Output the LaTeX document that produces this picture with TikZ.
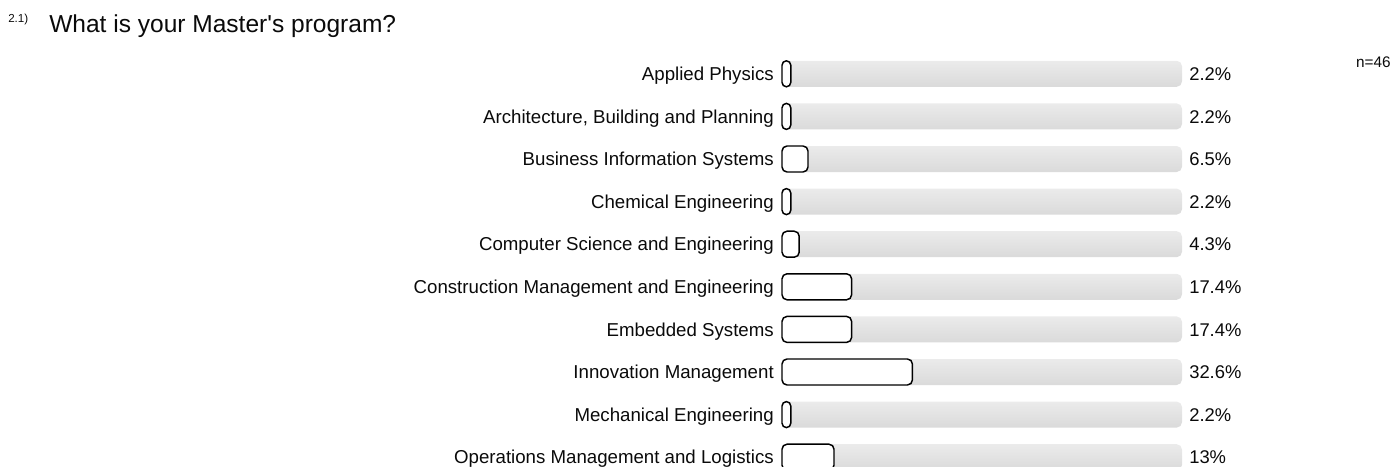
\documentclass[tikz,border=0pt]{standalone}
\usepackage{fontspec}
\setmainfont{Liberation Sans}
\newfontfamily\plainfont{Liberation Sans}
\definecolor{barTop}{RGB}{235,235,235}
\definecolor{barBot}{RGB}{218,218,218}
\definecolor{txt}{RGB}{10,10,10}
\begin{document}
\begin{tikzpicture}[x=0.75pt,y=-0.75pt,
  lbl/.style={inner sep=0pt,anchor=base east,text=txt,font=\fontsize{14}{16}\selectfont},
  pct/.style={inner sep=0pt,anchor=base west,text=txt,font=\fontsize{13.8}{16}\selectfont},
  bgbar/.style={top color=barTop,bottom color=barBot,rounded corners=4pt},
  valbox/.style={draw=black,fill=white,line width=1.1pt}]
\useasboundingbox (0,0) rectangle (1393,467);
\clip (0,0) rectangle (1393,467);
\node[inner sep=0pt,anchor=base west,text=txt,font=\fontsize{8.7}{10}\selectfont] (qnum) at (8,23) {2.1)};
\node[inner sep=0pt,anchor=base west,text=txt,font=\plainfont\fontsize{18.4}{22}\selectfont] (title) at (49,32.7) {What is your Master's program?};
\node[inner sep=0pt,anchor=base east,text=txt,font=\fontsize{11.5}{13}\selectfont] (n) at (1391,67.7) {n=46};
\foreach \lab/\p/\t [count=\i from 0] in {
  {Applied Physics}/2.2/2.2,
  {Architecture, Building and Planning}/2.2/2.2,
  {Business Information Systems}/6.5/6.5,
  {Chemical Engineering}/2.2/2.2,
  {Computer Science and Engineering}/4.3/4.3,
  {Construction Management and Engineering}/17.4/17.4,
  {Embedded Systems}/17.4/17.4,
  {Innovation Management}/32.6/32.6,
  {Mechanical Engineering}/2.2/2.2,
  {Operations Management and Logistics}/13/13}{
  \pgfmathsetmacro\c{73.8+42.6*\i}
  \pgfmathsetmacro\w{4*\p}
  \pgfmathsetmacro\rr{min(5,\w/2)*0.75}
  \shade[bgbar] (782,\c-13) rectangle (1182,\c+13);
  \draw[valbox,rounded corners=\rr pt] (782,\c-13) rectangle (782+\w,\c+13);
  \node[lbl] (l\i) at (774,\c+6.65) {\lab};
  \node[pct] (v\i) at (1189,\c+6.65) {\t\%};
}
\end{tikzpicture}
\end{document}
